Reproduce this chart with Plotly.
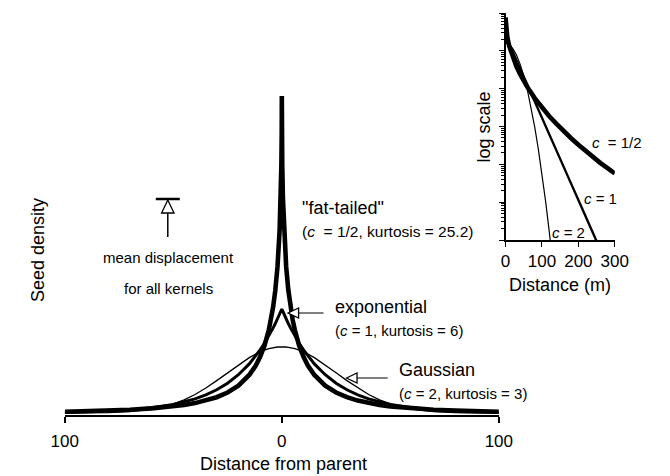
import plotly.graph_objects as go

W, H = 670, 476

# main panel: half profile of each kernel (distance from parent -> seed density, arbitrary units)
main_dist = [0, 0.05, 0.2, 0.5, 1, 2, 3, 4, 5, 6, 8, 10, 12, 15, 20, 25, 30, 35, 40, 45, 50, 60, 70, 80, 90, 100]
fat_tailed = [317, 280.4, 248.2, 215.2, 183.3, 146.1, 122.8, 106.0, 93.1, 82.9, 67.3, 56.1, 47.5, 38.0,
              27.4, 20.5, 15.8, 12.4, 9.9, 8.0, 6.6, 4.6, 3.2, 2.4, 1.8, 1.3]
exponential = [104, 103.7, 103.0, 101.4, 98.9, 94.1, 89.5, 85.1, 81.0, 77.0, 69.7, 63.1, 57.1, 49.1,
               38.3, 29.8, 23.2, 18.1, 14.1, 11.0, 8.5, 5.2, 3.1, 1.9, 1.2, 0.7]
gaussian = [66.2, 66.2, 66.2, 66.2, 66.1, 66.0, 65.7, 65.4, 64.9, 64.3, 62.9, 61.1, 59.0, 55.4,
            48.2, 40.3, 32.4, 25.0, 18.5, 13.2, 9.1, 3.8, 1.3, 0.4, 0.1, 0.0]

main_tickvals = [-100, 0, 100]
main_ticktext = ["100", "0", "100"]

# inset: log10 seed density vs distance (m)
inset_dist_half = [0, 2, 5, 10, 20, 30, 40, 50, 60, 80, 100, 120, 140, 160, 180, 200, 220, 240, 260, 280, 300]
inset_log_half = [5.88, 5.54, 5.35, 5.13, 4.82, 4.58, 4.38, 4.20, 4.04, 3.75, 3.50, 3.27, 3.07, 2.87,
                  2.69, 2.52, 2.35, 2.19, 2.04, 1.90, 1.76]
inset_dist_one = [0, 2, 5, 10, 20, 30, 40, 50, 60, 80, 100, 120, 140, 160, 180, 200, 220, 240, 260]
inset_log_one = [5.40, 5.36, 5.29, 5.18, 4.97, 4.75, 4.53, 4.31, 4.10, 3.66, 3.23, 2.79, 2.36, 1.93,
                 1.49, 1.06, 0.62, 0.19, -0.25]
inset_dist_two = [0, 5, 10, 20, 30, 40, 50, 60, 70, 80, 90, 100, 110, 120, 130]
inset_log_two = [5.20, 5.19, 5.17, 5.06, 4.89, 4.65, 4.34, 3.96, 3.51, 2.99, 2.40, 1.74, 1.02, 0.22, -0.64]
inset_tickvals = [0, 100, 200, 300]


def px(x):
    return x / W


def py(y):
    return 1 - y / H


def mirror(d, v):
    xs = [-a for a in reversed(d[1:])] + list(d)
    ys = list(reversed(v[1:])) + list(v)
    return xs, ys


FONT = "Liberation Sans, Arial, Helvetica, sans-serif"

fig = go.Figure()

for vals, w in [(gaussian, 1.3), (exponential, 3), (fat_tailed, 4.6)]:
    xs, ys = mirror(main_dist, vals)
    fig.add_trace(go.Scatter(x=xs, y=ys, mode="lines", line=dict(color="black", width=w),
                             xaxis="x", yaxis="y", showlegend=False, hoverinfo="skip"))

for d, lv, w in [(inset_dist_two, inset_log_two, 1.2), (inset_dist_one, inset_log_one, 2.4),
                 (inset_dist_half, inset_log_half, 4.6)]:
    fig.add_trace(go.Scatter(x=d, y=[10 ** v for v in lv], mode="lines", line=dict(color="black", width=w),
                             xaxis="x2", yaxis="y2", showlegend=False, hoverinfo="skip"))

annotations = []


def label(text, x, y, size, xanchor="left", angle=0):
    annotations.append(dict(text=text, x=px(x), y=py(y), xref="paper", yref="paper", showarrow=False,
                            xanchor=xanchor, yanchor="middle", textangle=angle,
                            font=dict(family=FONT, size=size, color="black")))


label('"fat-tailed"', 298, 208, 18)
label("(<i>c</i>  = 1/2, kurtosis = 25.2)", 298, 231, 15.5)
label("exponential", 333, 307, 18)
label("(<i>c</i> = 1, kurtosis = 6)", 333, 330, 15)
label("Gaussian", 400, 370, 18)
label("(<i>c</i> = 2, kurtosis = 3)", 400, 393, 15)
label("mean displacement", 161, 257, 15, "center")
label("for all kernels", 161, 288, 15, "center")
label("Distance from parent", 281, 464, 18, "center")
label("Seed density", 25, 250, 18, "center", -90)
label("log scale", 491, 127, 18, "center", -90)
label("Distance (m)", 570, 285, 18, "center")
label("<i>c</i>  = 1/2", 629, 142, 15, "center")
label("<i>c</i> = 1", 612, 198, 15, "center")
label("<i>c</i> = 2", 579, 232, 15, "center")

shapes = []


def seg(x0, y0, x1, y1, w):
    shapes.append(dict(type="line", xref="paper", yref="paper", x0=px(x0), y0=py(y0), x1=px(x1), y1=py(y1),
                       line=dict(color="black", width=w)))


def tri(pts):
    path = "M " + " L ".join(f"{px(a)},{py(b)}" for a, b in pts) + " Z"
    shapes.append(dict(type="path", xref="paper", yref="paper", path=path, fillcolor="white",
                       line=dict(color="black", width=1.3)))


# exponential arrow
seg(297, 313, 323, 313, 1)
tri([(286, 313), (297, 308), (297, 318)])
# gaussian arrow
seg(358, 378, 390, 378, 1)
tri([(347, 378), (358, 373), (358, 383)])
# mean displacement marker
seg(148, 199, 173, 199, 2.5)
seg(160.5, 213, 160.5, 237, 1.5)
tri([(160.5, 200), (154, 213), (167, 213)])

fig.update_layout(
    width=W, height=H,
    margin=dict(l=0, r=0, t=0, b=0),
    paper_bgcolor="white", plot_bgcolor="rgba(0,0,0,0)",
    font=dict(family=FONT, size=16, color="black"),
    annotations=annotations, shapes=shapes,
    xaxis=dict(domain=[px(53), px(506)], range=[-100, 100], anchor="y", showgrid=False, zeroline=False,
               showline=True, linecolor="black", linewidth=2, ticks="outside", ticklen=6, tickwidth=1.5,
               tickcolor="black", tickvals=main_tickvals, ticktext=main_ticktext,
               tickfont=dict(size=17), ticklabelstandoff=4),
    yaxis=dict(domain=[py(414.5), py(83)], range=[-1.5, 330], anchor="x", visible=False),
    xaxis2=dict(domain=[px(513), px(627)], range=[0, 300], anchor="y2", showgrid=False, zeroline=False,
                showline=True, linecolor="black", linewidth=2, ticks="outside", ticklen=5, tickwidth=1.3,
                tickcolor="black", tickvals=inset_tickvals, tickfont=dict(size=17)),
    yaxis2=dict(domain=[py(240), py(13)], type="log", range=[0, 6], anchor="x2", showgrid=False,
                zeroline=False, showline=True, linecolor="black", linewidth=2, ticks="outside", ticklen=5,
                tickwidth=1.3, tickcolor="black", dtick=1, showticklabels=False,
                minor=dict(ticks="outside", ticklen=3, tickwidth=1, tickcolor="black", dtick="D1",
                           showgrid=False)),
)

# page body margin would push the figure 8px off the window corner
fig.write_html("out.html", config={"displayModeBar": False},
               post_script="document.body.style.margin='0px';")
